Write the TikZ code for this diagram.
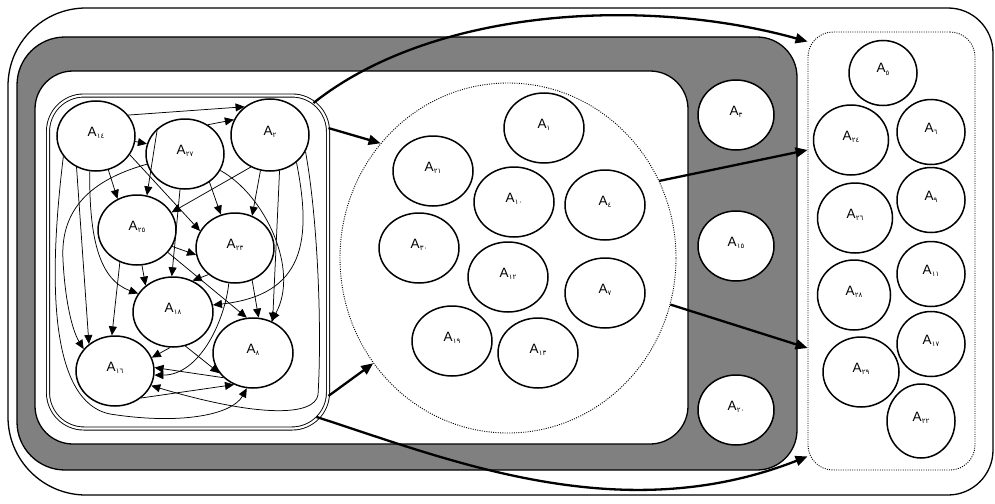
\documentclass[tikz,border=0pt]{standalone}
\usepackage{fontspec}
\newfontfamily\latf{Liberation Sans}
\newfontfamily\arf{DejaVu Sans}
\usetikzlibrary{shapes.geometric,arrows.meta}
\definecolor{greyfill}{RGB}{128,128,128}
\newcommand\albl[1]{A\kern0.2pt\raisebox{-2.2pt}{\arf\fontsize{7}{7}\selectfont #1}}
\begin{document}
\begin{tikzpicture}[x=1pt,y=-1pt,
  nd/.style={ellipse, draw, line width=1.5pt, fill=white, inner sep=0pt,
    minimum width=78pt, minimum height=70pt, font=\latf\fontsize{13.5}{13.5}\selectfont,
    text height=5pt, text depth=5pt},
  ndm/.style={nd, minimum width=80pt},
  ndr/.style={nd, minimum width=68pt, minimum height=65pt},
  ed/.style={-{Triangle[length=9pt,width=8pt]}, line width=0.75pt},
  big/.style={-{Triangle[length=12pt,width=10pt]}, line width=2.3pt},
  frame/.style={draw, line width=1.3pt},
  dots/.style={draw, line width=0.9pt, dash pattern=on 1pt off 1.3pt},
]
\useasboundingbox (0,0) rectangle (995,503);
% containers
\draw[frame] (500,8) [rounded corners=78pt] -- (8,8) -- (8,495) -- (500,495)
  [rounded corners=45pt] -- (993,495) -- (993,8) -- cycle;
\draw[frame, fill=greyfill] (400,37) [rounded corners=48pt] -- (17,37) -- (17,470) -- (400,470)
  [rounded corners=40pt] -- (797,470) -- (797,37) -- cycle;
\draw[frame, fill=white] (400,71) [rounded corners=38pt] -- (35,71) -- (35,444) -- (400,444)
  -- (688,444) -- (688,71) -- cycle;
\node[draw, double, double distance=2.2pt, line width=0.9pt, rounded corners=36pt,
  minimum width=280pt, minimum height=333pt, inner sep=0pt] (lbox) at (188,262) {};
\node[ellipse, dots, minimum width=336pt, minimum height=350pt, inner sep=0pt] (mid) at (508,258) {};
\node[dots, rounded corners=25pt, minimum width=167pt, minimum height=438pt, inner sep=0pt] (rbox) at (891.5,251) {};
% left box nodes
\node[nd] (a14) at (96,136) {\albl{١٤}};
\node[nd] (a27) at (185,154) {\albl{٢٧}};
\node[nd, minimum height=72pt] (a2) at (270,135) {\albl{٢}};
\node[nd] (a25) at (137,230) {\albl{٢٥}};
\node[nd] (a23) at (235,248) {\albl{٢٣}};
\node[ndm] (a18) at (173,312) {\albl{١٨}};
\node[nd] (a16) at (115,371) {\albl{١٦}};
\node[ndm] (a8) at (253,353) {\albl{٨}};
% middle nodes
\node[ndm] (a1) at (544,128) {\albl{١}};
\node[ndm] (a21) at (433,171) {\albl{٢١}};
\node[ndm] (a10) at (514,202) {\albl{١٠}};
\node[ndm] (a4) at (605,205) {\albl{٤}};
\node[ndm] (a30) at (419,248) {\albl{٣٠}};
\node[ndm] (a12) at (508,277) {\albl{١٢}};
\node[ndm] (a7) at (605,293) {\albl{٧}};
\node[ndm] (a19) at (452,341) {\albl{١٩}};
\node[ndm] (a13) at (538,353) {\albl{١٣}};
% grey column nodes
\node[nd, minimum width=76pt] (a3) at (736,115) {\albl{٣}};
\node[nd, minimum width=76pt] (a15) at (736,246) {\albl{١٥}};
\node[nd, minimum width=76pt] (a20) at (736,410) {\albl{٢٠}};
% right column nodes
\node[ndr] (a5) at (883,73) {\albl{٥}};
\node[nd, minimum width=75pt] (a24) at (851,140) {\albl{٢٤}};
\node[ndr] (a6) at (931,132) {\albl{٦}};
\node[nd, minimum width=75pt] (a26) at (855,218) {\albl{٢٦}};
\node[ndr] (a9) at (931,200) {\albl{٩}};
\node[nd, minimum width=73pt] (a28) at (854,295) {\albl{٢٨}};
\node[ndr] (a11) at (931,274) {\albl{١١}};
\node[ndr] (a17) at (931,344) {\albl{١٧}};
\node[nd, minimum width=76pt] (a29) at (861,372) {\albl{٢٩}};
\node[nd, minimum width=68pt, minimum height=74pt] (a22) at (921,421) {\albl{٢٢}};
% edges in left box
\draw[ed] (a14.33) -- (a2.132);
\draw[ed] (a14.-8) -- (a27.165);
\draw[ed] (a27.52) -- (a2.157);
\draw[ed] (a14.-70) -- (a25.122);
\draw[ed] (a27.137) -- (a25.74);
\draw[ed] (a2.-121) -- (a25.27);
\draw[ed] (a14.-29) -- (a23.154);
\draw[ed] (a27.-49) -- (a23.113);
\draw[ed] (a2.-105) -- (a23.62);
\draw[ed] (a27.-98) -- (a18.92);
\draw[ed] (a25.-82) -- (a18.136);
\draw[ed] (a23.-135) -- (a18.58);
\draw[ed] (a25.-25) -- (a23.190);
\draw[ed] (a25.-36) -- (a8.100);
\draw[ed] (a23.-62) -- (a8.81);
\draw[ed] (a2.-75) -- (a8.58);
\draw[ed] (a2.-46) .. controls (312,240) and (305,295) .. (a18.10);
\draw[ed] (a27.-25) .. controls (265,195) and (300,270) .. (a8.60);
\draw[ed] (a2.-25) .. controls (318,220) and (322,330) .. (318,395)
  .. controls (314,416) and (260,418) .. (a16.-22);
\draw[ed] (a14.-122) -- (a16.134);
\draw[ed] (a27.195) .. controls (90,180) and (60,210) .. (63,260)
  .. controls (65,300) and (72,330) .. (a16.145);
\draw[ed] (a14.-100) .. controls (89,240) and (100,280) .. (a18.152);
\draw[ed] (a14.212) .. controls (52,250) and (42,400) .. (110,414)
  .. controls (180,425) and (232,415) .. (a8.-100);
\draw[ed] (a25.-118) -- (a16.95);
\draw[ed] (a18.-95) -- (a16.20);
\draw[ed] (a18.-70) -- (a8.211);
\draw[ed] (a16.-46) -- (a8.239);
\draw[ed] (a8.220) -- (a16.5);
\draw[ed] (a23.-100) .. controls (225,320) and (200,375) .. (a16.-6);
% big arrows
\draw[big] ([xshift=-15pt,yshift=-8pt]lbox.north east) .. controls (430,10) and (640,-5) .. ([yshift=-10pt]rbox.north west);
\draw[big] ([yshift=-33pt]lbox.north east) -- (mid.138);
\draw[big] ([yshift=33pt]lbox.south east) -- (mid.218);
\draw[big] ([xshift=-12pt,yshift=12pt]lbox.south east) .. controls (450,460) and (620,530) .. ([yshift=14pt]rbox.south west);
\draw[big] (mid.27) -- ([yshift=101pt]rbox.west);
\draw[big] (mid.-16) -- ([yshift=-97pt]rbox.west);
\end{tikzpicture}
\end{document}
